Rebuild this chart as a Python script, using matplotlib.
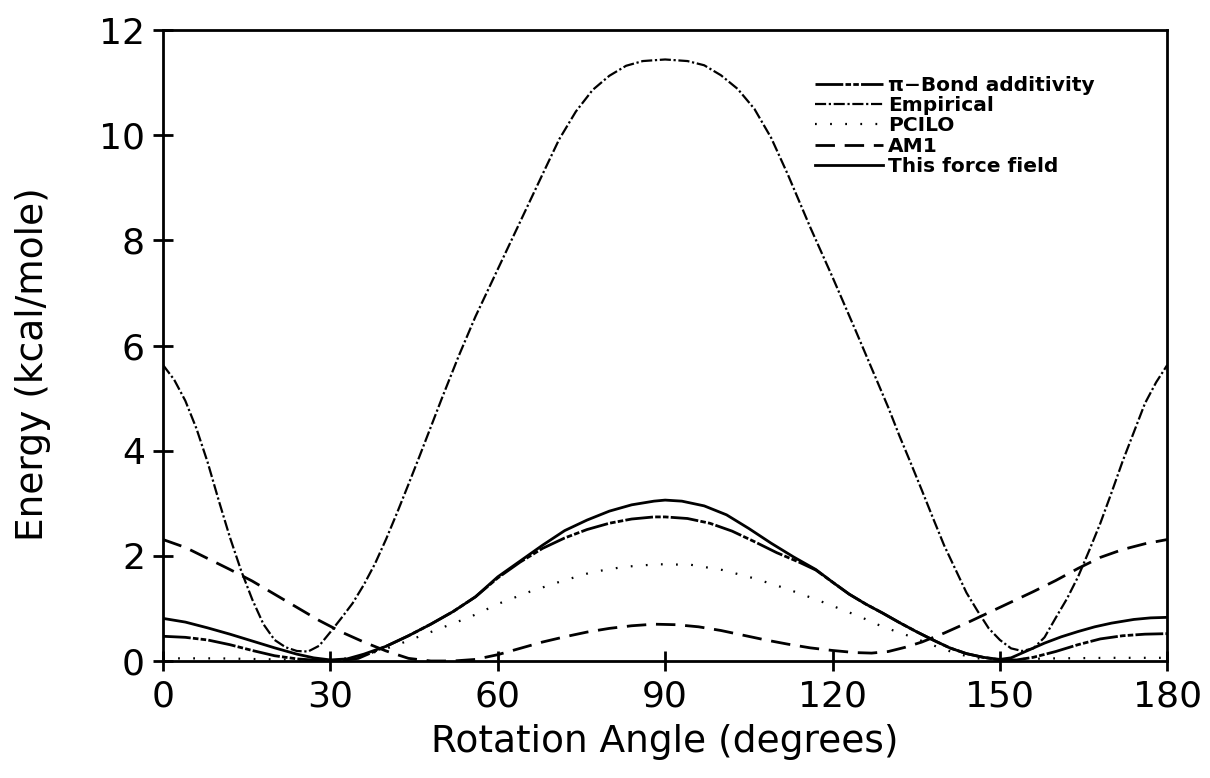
import matplotlib
matplotlib.use("Agg")
import matplotlib.pyplot as plt

# values (angle in degrees, energy in kcal/mole)
pibond_angle = [0, 4, 8, 12, 16, 20, 24, 28, 32, 35, 40, 44, 48, 52, 56, 60, 64, 68, 72,
                76, 80, 84, 88, 90, 94, 98, 102, 106, 110, 114, 117, 120, 123, 126, 129,
                132, 135, 138, 141, 144, 147, 150, 153, 156, 160, 164, 168, 172, 176, 180]
pibond_energy = [0.47, 0.45, 0.40, 0.31, 0.20, 0.10, 0.04, 0.01, 0.01, 0.05, 0.28, 0.48,
                 0.70, 0.94, 1.22, 1.58, 1.88, 2.14, 2.34, 2.50, 2.62, 2.70, 2.74, 2.74,
                 2.71, 2.62, 2.47, 2.27, 2.06, 1.88, 1.73, 1.50, 1.27, 1.08, 0.91, 0.73,
                 0.56, 0.40, 0.25, 0.14, 0.07, 0.02, 0.02, 0.07, 0.18, 0.31, 0.42, 0.48,
                 0.51, 0.52]

empirical_angle = [0, 2, 4, 6, 8, 10, 12, 14, 16, 18, 20, 22, 24, 26, 28, 30, 32, 34, 36,
                   38, 40, 42, 44, 46, 48, 50, 53, 56, 60, 64, 68, 71, 74, 77, 80, 83, 86,
                   90, 94, 97, 100, 103, 106, 109, 112, 116, 120, 124, 127, 130, 132, 134,
                   136, 138, 140, 142, 144, 146, 148, 150, 152, 154, 156, 158, 160, 162,
                   164, 166, 168, 170, 172, 174, 176, 178, 180]
empirical_energy = [5.63, 5.35, 4.95, 4.42, 3.78, 3.05, 2.35, 1.72, 1.17, 0.70, 0.40, 0.26,
                    0.19, 0.18, 0.29, 0.55, 0.82, 1.10, 1.45, 1.85, 2.32, 2.83, 3.36, 3.90,
                    4.45, 5.00, 5.80, 6.55, 7.45, 8.35, 9.25, 9.92, 10.45, 10.86, 11.13,
                    11.32, 11.41, 11.44, 11.41, 11.33, 11.14, 10.88, 10.50, 9.95, 9.25,
                    8.25, 7.30, 6.32, 5.57, 4.82, 4.28, 3.77, 3.25, 2.72, 2.20, 1.75, 1.30,
                    0.95, 0.62, 0.40, 0.24, 0.19, 0.24, 0.45, 0.82, 1.18, 1.60, 2.10, 2.62,
                    3.20, 3.80, 4.35, 4.90, 5.30, 5.63]

pcilo_angle = [0, 10, 20, 30, 34, 38, 41, 44.3, 49.7, 55.1, 60.4, 65.8, 71.2, 76.9, 82.6,
               88.6, 94.6, 100.3, 106, 111.6, 117.3, 122.6, 125.2, 127.9, 130.9, 133.6,
               137, 140, 143, 146, 150, 160, 170, 180]
pcilo_energy = [0.05, 0.05, 0.03, 0.02, 0.06, 0.17, 0.27, 0.40, 0.62, 0.84, 1.10, 1.32,
                1.51, 1.69, 1.79, 1.84, 1.83, 1.73, 1.57, 1.38, 1.16, 0.94, 0.83, 0.70,
                0.58, 0.48, 0.34, 0.22, 0.12, 0.05, 0.03, 0.05, 0.06, 0.06]

am1_angle = [0, 4, 8, 12, 16, 20, 24, 28, 32, 36, 40, 44, 48, 52, 56, 60, 64, 68, 72, 76,
             80, 84, 88, 92, 96, 100, 104, 108, 112, 116, 120, 124, 127, 130, 133, 136,
             140, 144, 148, 152, 156, 160, 164, 168, 172, 176, 180]
am1_energy = [2.31, 2.16, 1.95, 1.74, 1.52, 1.27, 1.02, 0.77, 0.55, 0.36, 0.19, 0.05, 0.0,
              0.0, 0.03, 0.12, 0.24, 0.36, 0.46, 0.55, 0.62, 0.67, 0.70, 0.69, 0.65, 0.58,
              0.49, 0.40, 0.32, 0.25, 0.20, 0.16, 0.15, 0.18, 0.26, 0.36, 0.53, 0.72,
              0.92, 1.12, 1.32, 1.53, 1.76, 1.97, 2.12, 2.23, 2.31]

ff_angle = [0, 4, 8, 12, 16, 20, 24, 27, 30, 33, 36, 40, 44, 48, 52, 56, 60, 64, 68, 72,
            76, 80, 84, 88, 90, 93, 97, 101, 105, 109, 113, 117, 120, 123, 126, 129, 132,
            135, 138, 141, 144, 147, 150, 152, 155, 158, 161, 164, 167, 170, 174, 177, 180]
ff_energy = [0.81, 0.74, 0.63, 0.51, 0.38, 0.25, 0.13, 0.06, 0.02, 0.04, 0.13, 0.28, 0.48,
             0.70, 0.94, 1.22, 1.60, 1.90, 2.20, 2.48, 2.68, 2.85, 2.97, 3.04, 3.06, 3.04,
             2.95, 2.78, 2.52, 2.24, 1.98, 1.74, 1.50, 1.27, 1.08, 0.91, 0.73, 0.56, 0.40,
             0.25, 0.14, 0.07, 0.03, 0.06, 0.20, 0.34, 0.46, 0.56, 0.65, 0.72, 0.79, 0.82,
             0.83]

x_ticks = [0, 30, 60, 90, 120, 150, 180]
y_ticks = [0, 2, 4, 6, 8, 10, 12]

fig = plt.figure(figsize=(12.1, 7.78), dpi=100)
ax = fig.add_axes([0.1347, 0.1504, 0.830, 0.8110])

ax.plot(pibond_angle, pibond_energy, color="black", lw=2.0,
        dashes=(10, 0.8, 2, 0.8, 2, 0.8), label="π−Bond additivity")
ax.plot(empirical_angle, empirical_energy, color="black", lw=1.6,
        dashes=(5, 1.2, 1, 1.2), label="Empirical")
ax.plot(pcilo_angle, pcilo_energy, color="black", lw=1.6,
        dashes=(0.8, 6), label="PCILO")
ax.plot(am1_angle, am1_energy, color="black", lw=2.0,
        dashes=(7, 3.5), label="AM1")
ax.plot(ff_angle, ff_energy, color="black", lw=2.0, label="This force field")

ax.set_xlim(0, 180)
ax.set_ylim(0, 12)
ax.set_xticks(x_ticks)
ax.set_yticks(y_ticks)
ax.tick_params(direction="inout", length=14, width=2, labelsize=26, pad=6)
for side in ax.spines.values():
    side.set_linewidth(2)

ax.set_xlabel("Rotation Angle (degrees)", fontsize=27, labelpad=8)
ax.set_ylabel("Energy (kcal/mole)", fontsize=27)
ax.yaxis.set_label_coords(-0.112, 0.47)

ax.legend(loc="upper left", bbox_to_anchor=(0.641, 0.94), frameon=False,
          prop={"weight": "bold", "size": 14.5}, handlelength=3.4,
          handletextpad=0.25, labelspacing=0.06, borderaxespad=0)

fig.savefig("out.png", dpi=100)
